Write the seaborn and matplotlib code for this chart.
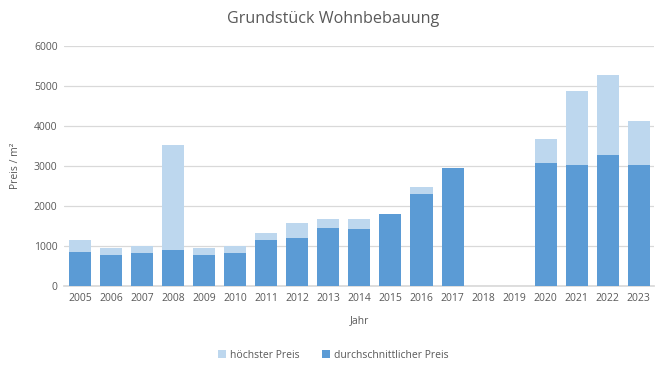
import matplotlib
matplotlib.use("Agg")
import matplotlib.pyplot as plt
import seaborn as sns
import pandas as pd
from matplotlib.patches import Patch

years = ["2005", "2006", "2007", "2008", "2009", "2010", "2011", "2012", "2013", "2014",
         "2015", "2016", "2017", "2018", "2019", "2020", "2021", "2022", "2023"]
hoechster = [1150, 960, 1000, 3525, 960, 1000, 1325, 1575, 1675, 1675,
             1810, 2485, 2960, 0, 0, 3675, 4875, 5285, 4125]
durchschnitt = [850, 785, 835, 900, 785, 835, 1150, 1210, 1460, 1435,
                1810, 2310, 2960, 0, 0, 3075, 3025, 3275, 3025]
yticks = [0, 1000, 2000, 3000, 4000, 5000, 6000]

df = pd.DataFrame({"Jahr": years, "hoechster": hoechster, "durchschnitt": durchschnitt})

sns.set_theme(style="white")
plt.rcParams["font.family"] = ["Open Sans", "DejaVu Sans"]
gray = "#595959"
light = "#BDD7EE"
dark = "#5B9BD5"

fig = plt.figure(figsize=(6.67, 3.72), dpi=100)
ax = fig.add_axes([0.0967, 0.231, 0.8843, 0.645])

sns.barplot(data=df, x="Jahr", y="hoechster", color=light, width=0.71,
            saturation=1, ax=ax, order=years, zorder=2, linewidth=0, edgecolor="none")
sns.barplot(data=df, x="Jahr", y="durchschnitt", color=dark, width=0.71,
            saturation=1, ax=ax, order=years, zorder=3, linewidth=0, edgecolor="none")

ax.set_ylim(0, 6000)
ax.set_xlim(-0.5, len(years) - 0.5)
ax.set_yticks(yticks)
ax.set_yticklabels([str(v) for v in yticks])
ax.yaxis.grid(True, color="#D9D9D9", linewidth=0.9, zorder=0)
ax.set_axisbelow(True)
for s in ["top", "right", "left"]:
    ax.spines[s].set_visible(False)
ax.spines["bottom"].set_color("#D9D9D9")
ax.tick_params(axis="both", length=0, labelsize=7.5, colors=gray, pad=5)
ax.set_xlabel("Jahr", fontsize=7.5, color=gray, labelpad=8)
ax.set_ylabel("Preis / m²", fontsize=7.5, color=gray, labelpad=9)
fig.text(0.5, 0.95, "Grundstück Wohnbebauung", ha="center", va="center",
         fontsize=11.6, color=gray)

handles = [Patch(facecolor=light, edgecolor="none", label="höchster Preis"),
           Patch(facecolor=dark, edgecolor="none", label="durchschnittlicher Preis")]
fig.legend(handles=handles, loc="center", bbox_to_anchor=(0.5, 0.045), ncol=2,
           frameon=False, fontsize=7.5, handlelength=0.7, handleheight=0.7,
           handletextpad=0.4, columnspacing=2.2, labelcolor=gray)

fig.savefig("out.png", dpi=100)
